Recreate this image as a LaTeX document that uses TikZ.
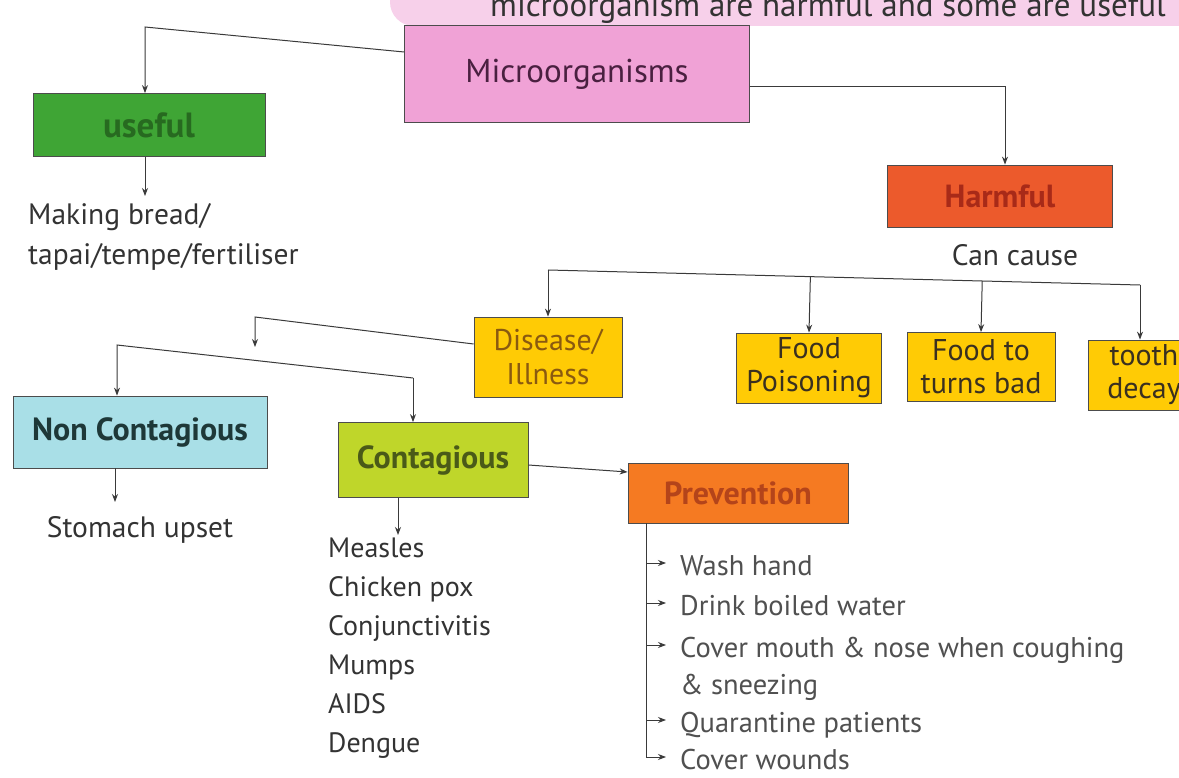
\documentclass[tikz,border=0pt]{standalone}
\usepackage{fontspec}
\setmainfont{PT Sans}
\usetikzlibrary{arrows.meta,calc}
\definecolor{cpink}{HTML}{F0A2D6}
\definecolor{bannerpink}{HTML}{F7D0EA}
\definecolor{cgreen}{HTML}{3FA535}
\definecolor{cgreentext}{HTML}{276A20}
\definecolor{cred}{HTML}{EC5A2C}
\definecolor{credtext}{HTML}{A82A18}
\definecolor{cyellow}{HTML}{FFCB05}
\definecolor{cdis}{HTML}{8A5A10}
\definecolor{cfood}{HTML}{3A3020}
\definecolor{ccyan}{HTML}{A9DFE7}
\definecolor{clime}{HTML}{BFD62A}
\definecolor{climetext}{HTML}{4A5A18}
\definecolor{corange}{HTML}{F57A22}
\definecolor{cprevtext}{HTML}{B4441A}
\definecolor{textc}{HTML}{333333}
\definecolor{clight}{HTML}{505050}
\definecolor{cmicro}{HTML}{4A2040}
\definecolor{cnonc}{HTML}{1E3838}
\definecolor{linec}{HTML}{3A3A3A}
\begin{document}
\begin{tikzpicture}[x=1pt,y=-1pt,
  box/.style={draw=black!70, line width=0.8pt, inner sep=0pt, align=center,
    font=\fontsize{30}{33}\selectfont},
  boxb/.style={box, font=\bfseries\fontsize{32}{35}\selectfont},
  conn/.style={draw=linec, line width=1pt},
  arr/.style={conn, -{Stealth[length=8pt,width=6pt]}},
  txt/.style={inner sep=0pt, align=left, font=\fontsize{29.5}{40}\selectfont, text=textc},
  lst/.style={txt, anchor=north west, font=\fontsize{28}{39}\selectfont},
  pitem/.style={anchor=base west, inner xsep=14pt, inner ysep=0pt,
    font=\fontsize{28.5}{30}\selectfont, text=clight},
  banner/.style={anchor=base west, inner sep=0pt,
    font=\fontsize{33}{33}\selectfont, text=textc}
]
\useasboundingbox (0,0) rectangle (1179,778);
\fill[white] (0,0) rectangle (1179,778);
% banner
\fill[bannerpink, rounded corners=24pt] (390,-40) rectangle (1240,26);
\node[banner] (title) at (490,17) {microorganism are harmful and some are useful};

% nodes
\node[box, fill=cpink, text=cmicro, minimum width=345pt, minimum height=97pt,
  font=\fontsize{33}{36}\selectfont] (micro) at (577,74) {Microorganisms};
\node[boxb, fill=cgreen, text=cgreentext, minimum width=232pt, minimum height=63pt,
  font=\bfseries\fontsize{35}{38}\selectfont] (useful) at (149,125) {useful};
\node[txt, anchor=north west] (making) at (28,203) {Making bread/\\tapai/tempe/fertiliser};
\node[boxb, fill=cred, text=credtext, minimum width=225pt, minimum height=62pt] (harmful) at (1000,196) {Harmful};
\node[txt] (cause) at (1015,255) {Can cause};

\node[box, fill=cyellow, text=cdis, minimum width=148pt, minimum height=80pt] (disease) at (548,357) {Disease/\\Illness};
\node[box, fill=cyellow, text=cfood, minimum width=145pt, minimum height=70pt] (fpois) at (809,368) {Food\\Poisoning};
\node[box, fill=cyellow, text=cfood, minimum width=148pt, minimum height=69pt] (fbad) at (981,367) {Food to\\turns bad};
\node[box, fill=cyellow, text=cfood, minimum width=112pt, minimum height=70pt] (tooth) at (1144,375) {tooth\\decay};

\node[boxb, fill=ccyan, text=cnonc, minimum width=254pt, minimum height=72pt] (nonc) at (140,432) {Non Contagious};
\node[boxb, fill=clime, text=climetext, minimum width=190pt, minimum height=75pt] (cont) at (433,460) {Contagious};
\node[boxb, fill=corange, text=cprevtext, minimum width=220pt, minimum height=60pt] (prev) at (738,493) {Prevention};

\node[txt] (stomach) at (140,530) {Stomach upset};
\node[lst] (clist) at (328,538) {Measles\\Chicken pox\\Conjunctivitis\\Mumps\\AIDS\\Dengue};

\node[pitem] (w1) at (666,575) {Wash hand};
\node[pitem] (w2) at (666,615) {Drink boiled water};
\node[pitem] (w3) at (666,657) {Cover mouth \& nose when coughing};
\node[pitem] (w3b) at (666,694) {\& sneezing};
\node[pitem] (w4) at (666,732) {Quarantine patients};
\node[pitem] (w5) at (666,769) {Cover wounds};

% connectors
\coordinate (uA) at (145,27);
\draw[arr] ([yshift=22pt]micro.west) -- (uA) -- (uA |- useful.north);
\coordinate (uC) at (145,196);
\draw[arr] (uC |- useful.south) -- (uC);

\coordinate (hA) at (1005,87);
\draw[arr] ([yshift=-13pt]micro.east) -- (hA) -- (hA |- harmful.north);

\coordinate (bL) at (548,270);
\coordinate (bR) at (1140,285);
\draw[conn] (bL) -- (bR);
\draw[arr] (bL) -- (disease.north);
\draw[arr] ($(bL)!(fpois.north)!(bR)$) -- (fpois.north);
\draw[arr] ($(bL)!(fbad.north)!(bR)$) -- (fbad.north);
\draw[arr] (bR) -- (bR |- tooth.north);

\coordinate (dB) at (255,317);
\coordinate (dC) at (255,347);
\draw[arr] ([yshift=13pt]disease.west) -- (dB) -- (dC);

\coordinate (nA) at (117,345);
\coordinate (nB) at (413,378);
\draw[arr] (nB) -- (nA) -- (nA |- nonc.north);
\draw[arr] (nB) -- (nB |- cont.north);

\coordinate (sB) at (115,502);
\draw[arr] (sB |- nonc.south) -- (sB);
\coordinate (cB) at (398,535);
\draw[arr] (cB |- cont.south) -- (cB);

\draw[arr] ([yshift=-5pt]cont.east) -- ([yshift=21pt]prev.west);

\coordinate (pv) at (646,0);
\coordinate (t1) at ([yshift=12pt]w1.base west);
\coordinate (t2) at ([yshift=12pt]w2.base west);
\coordinate (t3) at ([yshift=12pt]w3.base west);
\coordinate (t4) at ([yshift=12pt]w4.base west);
\coordinate (t5) at ([yshift=12pt]w5.base west);
\draw[arr] (pv |- prev.south) |- (t5);
\draw[arr] (pv |- t1) -- (t1);
\draw[arr] (pv |- t2) -- (t2);
\draw[arr] (pv |- t3) -- (t3);
\draw[arr] (pv |- t4) -- (t4);
\end{tikzpicture}
\end{document}
